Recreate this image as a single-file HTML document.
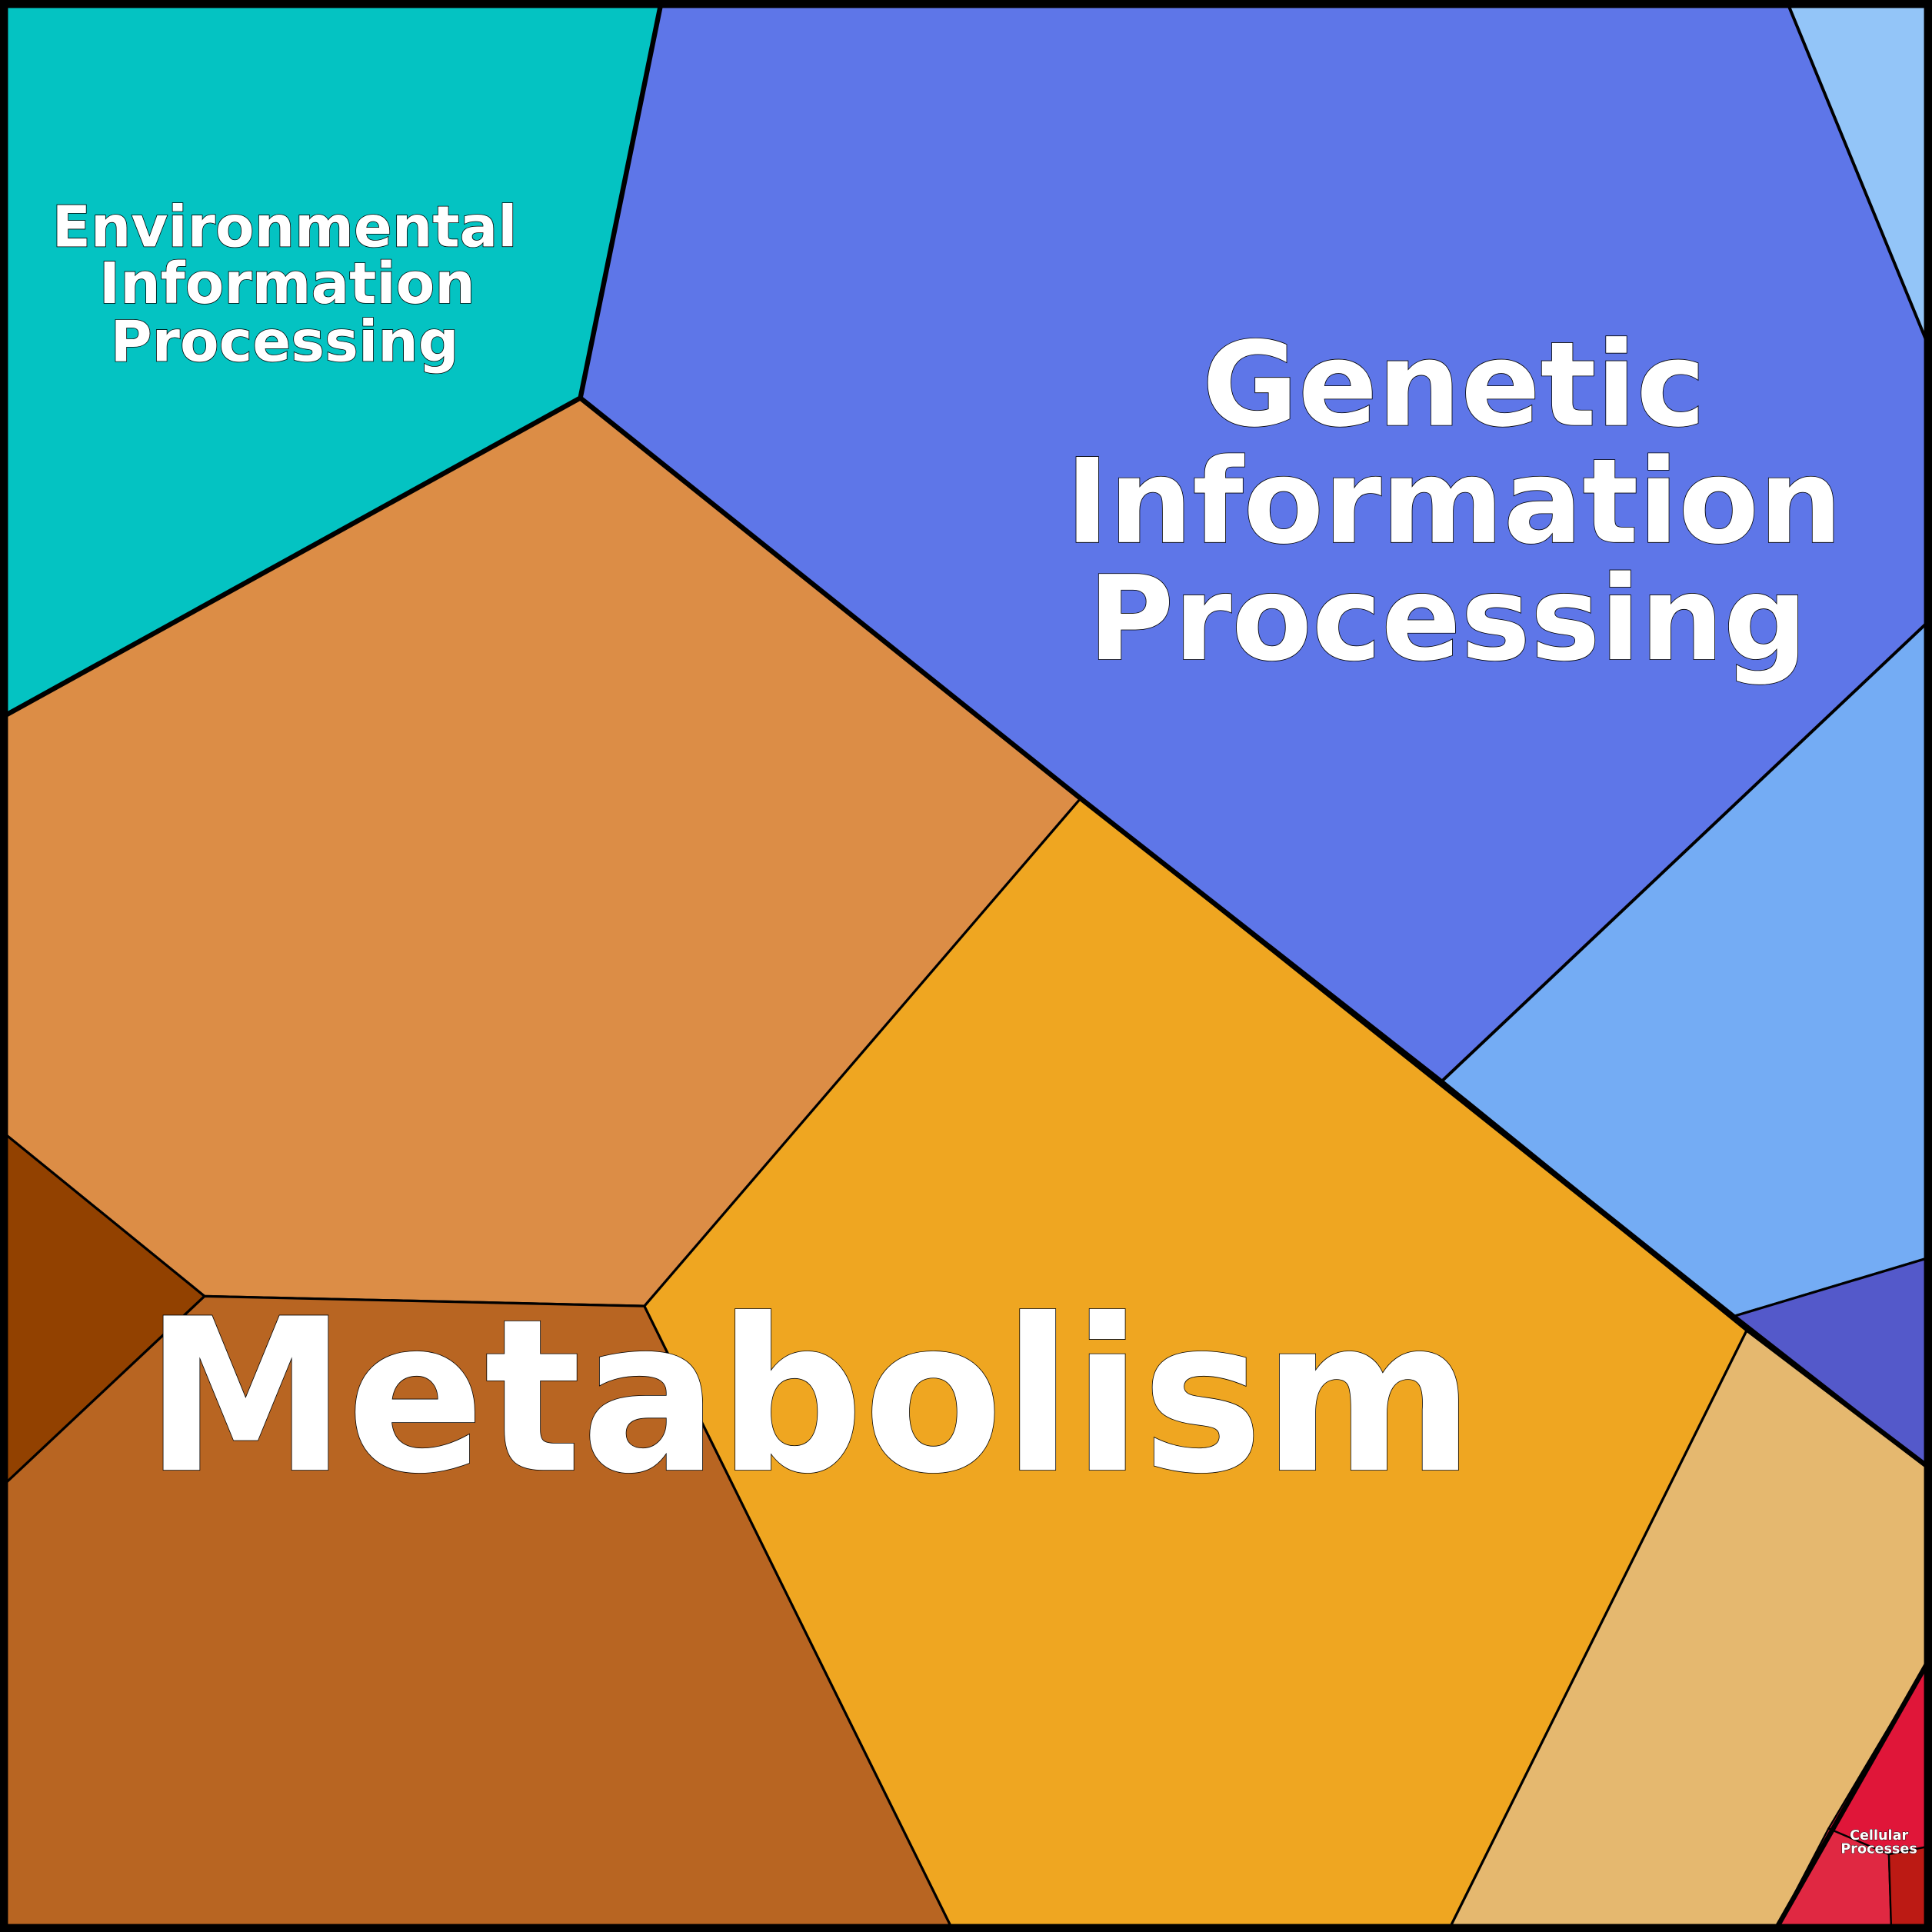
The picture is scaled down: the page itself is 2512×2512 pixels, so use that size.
<!DOCTYPE html>
<html><head><meta charset="utf-8"><style>
html,body{margin:0;padding:0;background:#000;}
svg{display:block;}
text{font-family:"DejaVu Sans","Liberation Sans",sans-serif;font-weight:bold;fill:#fff;text-anchor:middle;}
</style></head><body>
<svg width="2512" height="2512" viewBox="0 0 1568 1568" xmlns="http://www.w3.org/2000/svg">
<g stroke="#000" stroke-linejoin="round">
<polygon points="0,0 537,0 471,323 0,583" fill="#04C3C2" stroke-width="3"/>
<polygon points="537,0 1450,0 1568,287 1568,502 1170,878 877,648 471,323" fill="#5E76E8" stroke-width="3"/>
<polygon points="1450,0 1568,0 1568,287" fill="#93C5F8" stroke-width="2"/>
<polygon points="1568,502 1170,878 1408,1068 1568,1020" fill="#74ACF4" stroke-width="2"/>
<polygon points="1408,1068 1568,1020 1568,1193" fill="#5459CA" stroke-width="2"/>
<polygon points="0,583 471,323 877,648 523,1060 166,1052 0,917" fill="#DC8D46" stroke-width="2"/>
<polygon points="0,917 166,1052 0,1208" fill="#924100" stroke-width="2"/>
<polygon points="0,1208 166,1052 523,1060 774,1568 0,1568" fill="#B86522" stroke-width="2"/>
<polygon points="523,1060 877,648 1418,1079 1175,1568 774,1568" fill="#EFA621" stroke-width="2"/>
<polygon points="1418,1079 1568,1193 1568,1343 1440,1568 1175,1568" fill="#E5B86F" stroke-width="2"/>
<polygon points="1568,1343 1484,1484 1533,1505 1568,1498" fill="#E01639" stroke-width="1.5"/>
<polygon points="1484,1484 1440,1568 1535,1568 1533,1505" fill="#E02842" stroke-width="1.5"/>
<polygon points="1533,1505 1568,1498 1568,1568 1535,1568" fill="#BC1A14" stroke-width="1.5"/>
</g>
<g fill="none" stroke="#000">
<polyline points="537,0 471,323 0,583" stroke-width="4"/>
<polyline points="471,323 877,648 1170,878 1418,1079 1568,1193" stroke-width="4"/>
<polyline points="1568,1343 1440,1568" stroke-width="4"/>
<rect x="3" y="3" width="1562" height="1562" stroke-width="7"/>
</g>
<g style="paint-order:stroke" stroke="#000" stroke-width="1">
<text font-size="46" x="231" y="200">Environmental</text>
<text font-size="46" x="233" y="246">Information</text>
<text font-size="46" x="231" y="293">Processing</text>
<text font-size="95" x="1180" y="345">Genetic</text>
<text font-size="95" x="1180" y="440">Information</text>
<text font-size="95" x="1175" y="535">Processing</text>
<text font-size="172" x="657" y="1193" textLength="1079" lengthAdjust="spacingAndGlyphs">Metabolism</text>
<text font-size="11" x="1525" y="1493" stroke-width="0.5">Cellular</text>
<text font-size="11" x="1525" y="1504" stroke-width="0.5">Processes</text>
</g>
</svg>
</body></html>
